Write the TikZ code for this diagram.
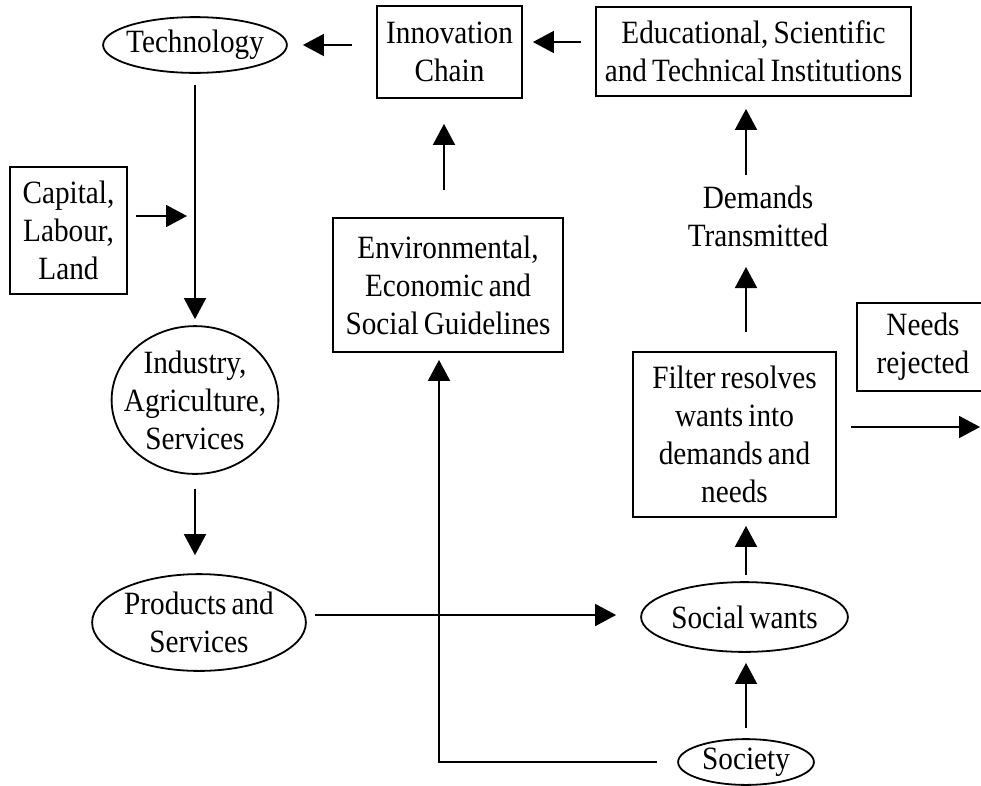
\documentclass[tikz,border=0pt]{standalone}
\usepackage{fontspec}
\setmainfont{Liberation Serif}[FakeStretch=0.9, WordSpace=0.7]
\usetikzlibrary{shapes.geometric,arrows.meta,calc}
\begin{document}
\begin{tikzpicture}[x=1pt,y=-1pt,
  every node/.style={font=\fontsize{32.5}{38}\selectfont, align=center, inner sep=0pt, line width=1.8pt},
  box/.style={draw, rectangle},
  ov/.style={rectangle},
  arr/.style={line width=1.8pt, -{Triangle[length=21pt,width=22pt]}}
]
\useasboundingbox (0,0) rectangle (981,785);

\node[ov, minimum width=182, minimum height=54] (tech) at (195,45) {Technology};
\node[box, minimum width=145, minimum height=92] (innov) at (449.5,52) {Innovation\\Chain};
\node[box, minimum width=315, minimum height=89] (edu) at (753.5,51.5) {Educational, Scientific\\and Technical Institutions};
\node (demands) at (758,216) {Demands\\Transmitted};
\node[box, minimum width=117, minimum height=127] (cap) at (68.5,230.5) {Capital,\\Labour,\\Land};
\node[box, minimum width=230, minimum height=134] (env) at (448,285) {Environmental,\\Economic and\\Social Guidelines};
\node[ov, minimum width=165, minimum height=146] (ind) at (195,400) {Industry,\\Agriculture,\\Services};
\node[ov, minimum width=212, minimum height=95] (prod) at (199,622.5) {Products and\\Services};
\node[box, minimum width=203, minimum height=165] (filter) at (734.5,434.5) {Filter resolves\\wants into\\demands and\\needs};
\node[box, minimum width=132, minimum height=88] (needs) at (923,347) {Needs\\rejected};
\node[ov, minimum width=205, minimum height=68] (social) at (744.5,617) {Social wants};
\node[ov, minimum width=134, minimum height=44] (society) at (746,762) {Society};

\foreach \nd in {tech,ind,prod,social,society}{
  \draw[line width=1.8pt] let \p1=($(\nd.east)-(\nd.center)$), \p2=($(\nd.north)-(\nd.center)$) in
    (\nd.center) ellipse [x radius=\x1, y radius=\y2];
}

\coordinate (col) at (746,0);
\coordinate (out) at (980,427);

\draw[arr] ($(innov.west |- tech.east)+(-24,0)$) -- ($(tech.east)+(16,0)$);
\draw[arr] ($(edu.west)+(-14,-9.5)$) -- ($(innov.east |- edu.west)+(10,-9.5)$);
\draw[arr] ($(env.north)+(-4,-27)$) -- ($(env.north |- innov.south)+(-4,25)$);
\draw[arr] ($(demands.center -| col)+(0,-41)$) -- ($(edu.south -| col)+(0,12)$);
\draw[arr] ($(filter.north -| col)+(0,-19)$) -- ($(demands.center -| col)+(0,51)$);
\draw[arr] ($(filter.east)+(14,-7.5)$) -- (out);
\draw[arr] ($(social.north -| col)+(0,-7)$) -- ($(filter.south -| col)+(0,8)$);
\draw[arr] ($(society.north -| col)+(0,-11)$) -- ($(social.south -| col)+(0,11)$);
\draw[arr] ($(prod.east)+(9,-7.5)$) -- ($(social.west |- prod.east)+(-25,-7.5)$);
\draw[arr] ($(society.west)+(-21,0)$) -| ($(env.south)+(-9,7)$);
\draw[arr] ($(tech.south)+(0,12)$) -- ($(ind.north)+(0,-7)$);
\draw[arr] ($(cap.east)+(8,-14.5)$) -- ($(tech.south |- cap.east)+(-8,-14.5)$);
\draw[arr] ($(ind.south)+(0,15)$) -- ($(prod.north -| ind.south)+(0,-19)$);
\end{tikzpicture}
\end{document}
